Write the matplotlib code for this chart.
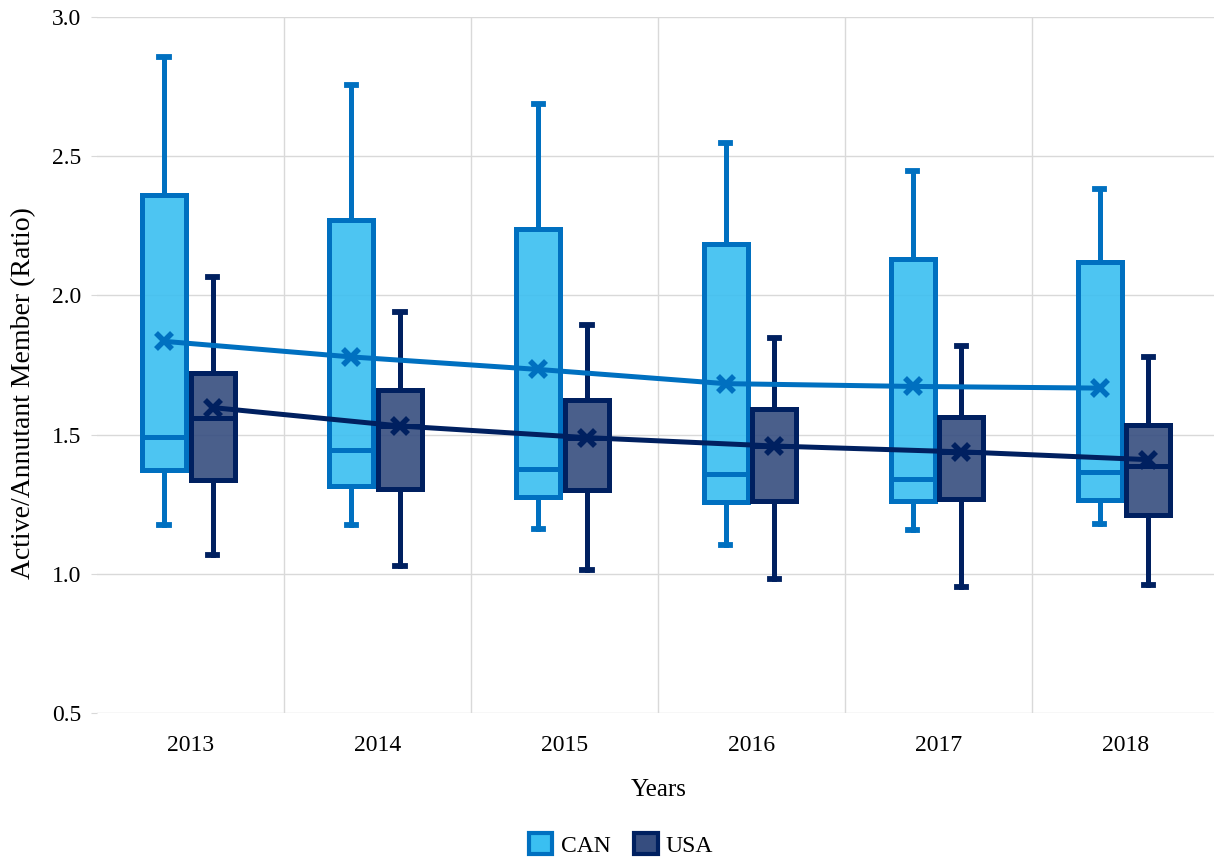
#!/usr/bin/env python3
"""Active/annutant member ratio by year, CAN vs USA box plots with mean lines."""

import matplotlib
matplotlib.use('Agg')
import matplotlib.pyplot as plt
from matplotlib.patches import Patch

# Data.
years = ['2013', '2014', '2015', '2016', '2017', '2018']

can_whishi = [2.858, 2.754, 2.689, 2.547, 2.447, 2.382]
can_q3 = [2.360, 2.271, 2.240, 2.183, 2.132, 2.120]
can_med = [1.492, 1.443, 1.375, 1.358, 1.342, 1.365]
can_q1 = [1.372, 1.314, 1.275, 1.258, 1.261, 1.266]
can_whislo = [1.174, 1.174, 1.161, 1.103, 1.157, 1.178]
can_mean = [1.835, 1.779, 1.734, 1.683, 1.673, 1.667]

usa_whishi = [2.066, 1.941, 1.893, 1.848, 1.819, 1.777]
usa_q3 = [1.723, 1.661, 1.626, 1.592, 1.563, 1.533]
usa_med = [1.561, 1.531, 1.489, 1.459, 1.438, 1.386]
usa_q1 = [1.337, 1.306, 1.302, 1.261, 1.267, 1.212]
usa_whislo = [1.068, 1.027, 1.015, 0.983, 0.953, 0.960]
usa_mean = [1.597, 1.531, 1.489, 1.459, 1.438, 1.410]

y_ticks = [0.5, 1.0, 1.5, 2.0, 2.5, 3.0]

CAN_EDGE = '#0070C0'
CAN_FILL = '#3ABFF1'
USA_EDGE = '#002060'
USA_FILL = '#364D7F'
GRID = '#D9D9D9'
FONT = 'Liberation Serif'
LW = 3.6

plt.rcParams['font.family'] = [FONT, 'DejaVu Serif']

fig = plt.figure(figsize=(12.14, 8.58), dpi=100)
ax = fig.add_axes([0.0797, 0.169, 0.9249, 0.8112])


def make_stats(lo, q1, med, q3, hi):
    return [dict(whislo=a, q1=b, med=c, q3=d, whishi=e, fliers=[])
            for a, b, c, d, e in zip(lo, q1, med, q3, hi)]


def draw_boxes(stats, offset, edge, fill):
    pos = [i + offset for i in range(len(stats))]
    ax.bxp(stats, positions=pos, widths=0.235, capwidths=0.05,
           patch_artist=True, showfliers=False, zorder=2,
           boxprops=dict(facecolor=fill, edgecolor=edge, linewidth=LW),
           medianprops=dict(color=edge, linewidth=LW, solid_capstyle='butt'),
           whiskerprops=dict(color=edge, linewidth=LW),
           capprops=dict(color=edge, linewidth=LW + 0.6))
    return pos


can_pos = draw_boxes(make_stats(can_whislo, can_q1, can_med, can_q3, can_whishi),
                     -0.14, CAN_EDGE, CAN_FILL)
usa_pos = draw_boxes(make_stats(usa_whislo, usa_q1, usa_med, usa_q3, usa_whishi),
                     0.12, USA_EDGE, USA_FILL)

# slightly see-through fill, solid edge
for patch in ax.patches:
    fc = patch.get_facecolor()
    patch.set_facecolor((fc[0], fc[1], fc[2], 0.9))

ax.plot(can_pos, can_mean, color=CAN_EDGE, linewidth=LW, marker='x',
        markersize=12, markeredgewidth=4, zorder=4)
ax.plot(usa_pos, usa_mean, color=USA_EDGE, linewidth=LW, marker='x',
        markersize=12, markeredgewidth=4, zorder=4)

ax.set_xlim(-0.5, len(years) - 0.5)
ax.set_ylim(0.5, 3.0)
ax.set_xticks(range(len(years)))
ax.set_xticklabels(years)
ax.set_xticks([i + 0.5 for i in range(len(years) - 1)], minor=True)
ax.set_yticks(y_ticks)
ax.set_yticklabels([f'{v:.1f}' for v in y_ticks])

ax.grid(axis='y', color=GRID, linewidth=1.0, zorder=0)
ax.grid(axis='x', which='minor', color=GRID, linewidth=1.0, zorder=0)
ax.set_axisbelow(True)

ax.tick_params(axis='x', which='both', length=0, pad=16, labelsize=17)
ax.tick_params(axis='y', length=4, color=GRID, pad=7, labelsize=17)
for spine in ax.spines.values():
    spine.set_visible(False)

ax.set_xlabel('Years', fontsize=18)
ax.xaxis.set_label_coords(0.5, -0.095)
ax.set_ylabel('Active/Annutant Member (Ratio)', fontsize=20)
ax.yaxis.set_label_coords(-0.054, 0.46)

handles = [Patch(facecolor=CAN_FILL, edgecolor=CAN_EDGE, linewidth=3, label='CAN'),
           Patch(facecolor=USA_FILL, edgecolor=USA_EDGE, linewidth=3, label='USA')]
fig.legend(handles=handles, loc='center', bbox_to_anchor=(621 / 1214, 1 - 845 / 858),
           ncol=2, frameon=False, fontsize=17, handlelength=1.0, handleheight=1.0,
           handletextpad=0.35, columnspacing=1.0)

fig.savefig('out.png', dpi=100, facecolor='white')
